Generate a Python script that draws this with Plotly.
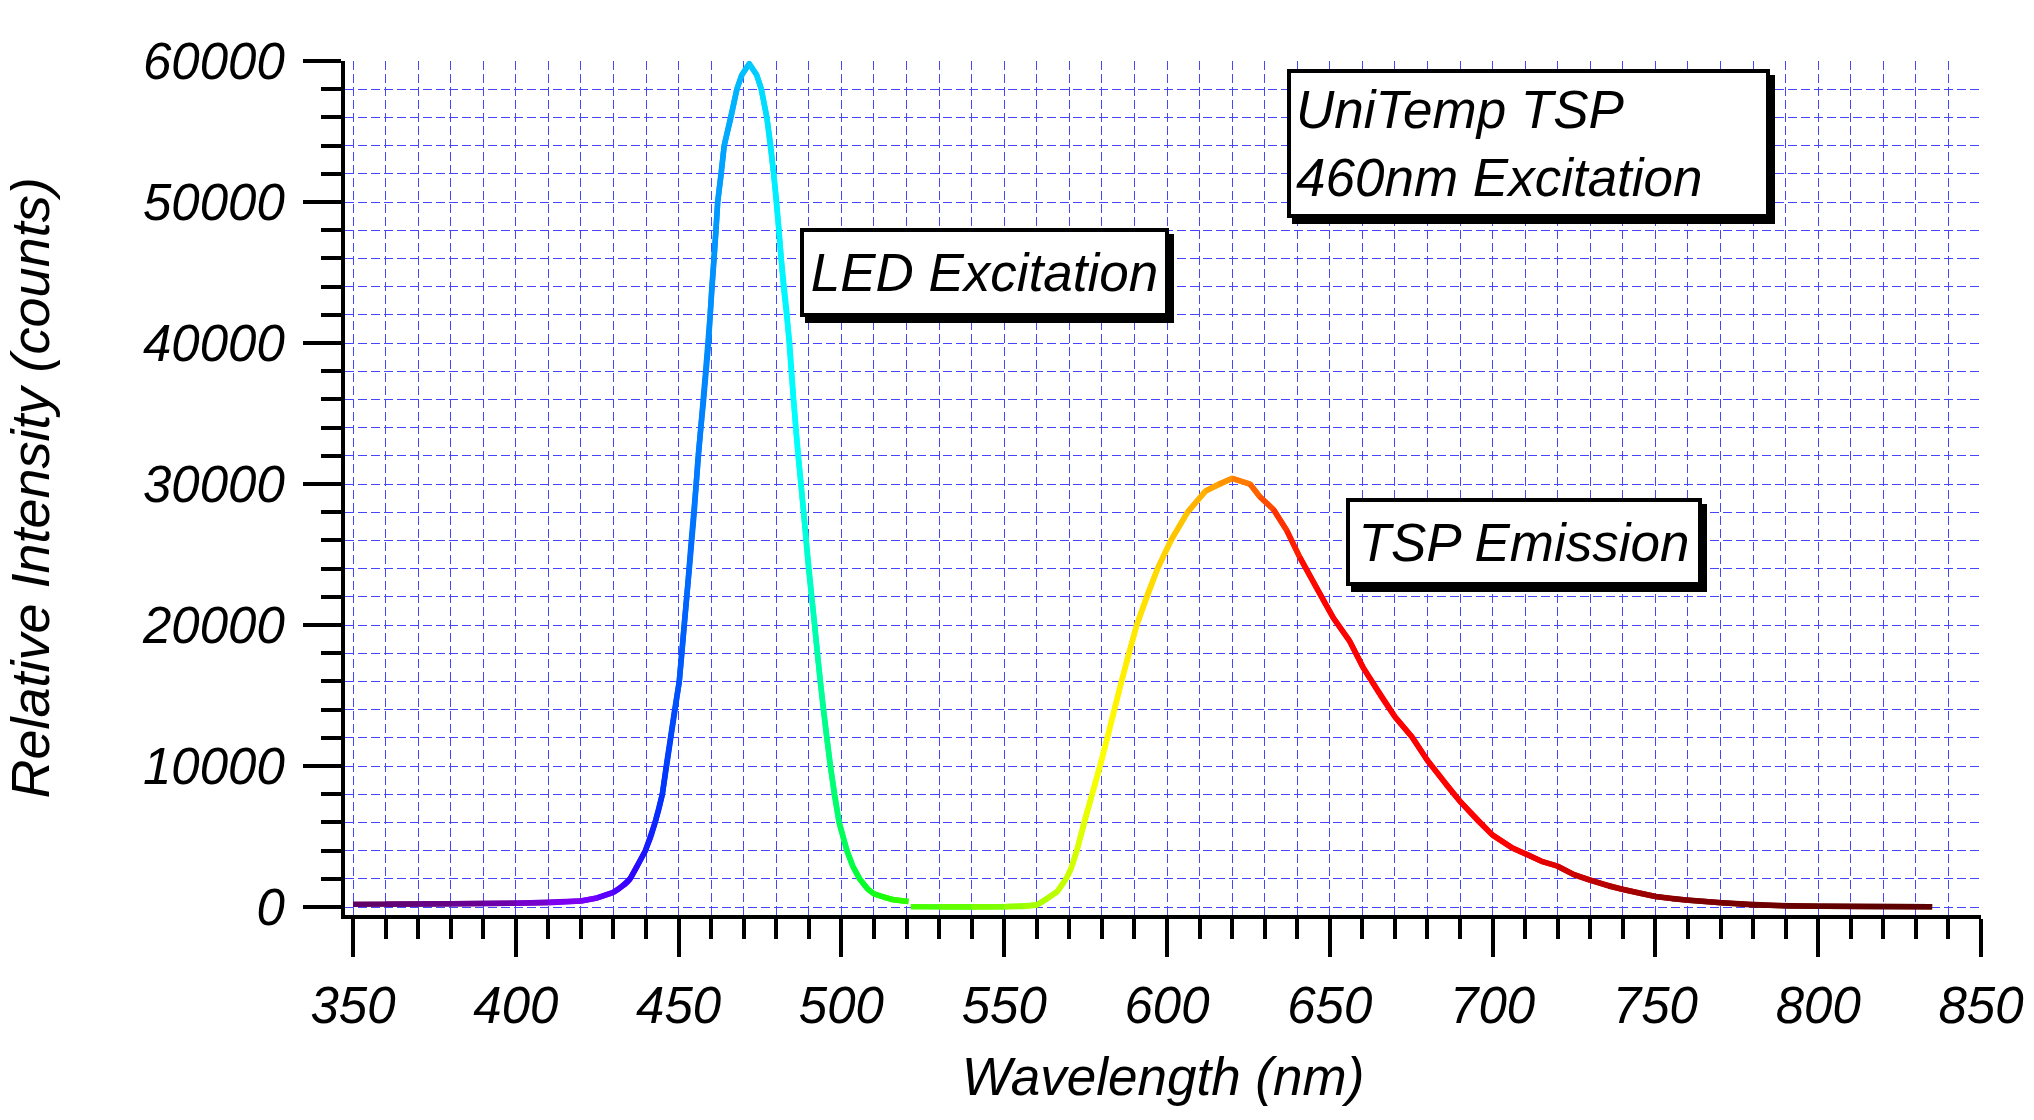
import plotly.graph_objects as go
from plotly.colors import sample_colorscale

# ---------------- data ----------------
led_wavelength = [350, 360, 370, 380, 390, 400, 410, 420, 425, 430, 432, 434, 435.1, 437.5,
                  439.8, 441.5, 442.8, 444.0, 445.0, 446.2, 447.6, 448.8, 450.2, 451.0, 451.7,
                  452.5, 453.3, 453.9, 454.8, 455.4, 456.0, 456.8, 457.7, 458.3, 459.2, 459.7,
                  460.2, 460.9, 461.5, 462.0, 463.1, 464.0, 466.1, 467.9, 469.4, 471.7, 474.0,
                  475.4, 477.1, 478.3, 479.2, 480.1, 480.8, 481.5, 482.2, 483.3, 484.1, 484.6,
                  485.3, 486.0, 486.7, 487.6, 488.4, 489.2, 489.9, 490.9, 491.8, 492.6, 493.5,
                  494.5, 495.5, 496.6, 497.8, 499.3, 501.7, 503.5, 505.6, 508.0, 510.0, 513.0,
                  516.0, 520.6]
led_counts = [200, 210, 220, 240, 260, 280, 310, 430, 650, 1050, 1350, 1700, 2000, 3000,
              4000, 5000, 6000, 7000, 8000, 10000, 12000, 14000, 16000, 18000, 20000,
              22000, 24000, 26000, 28000, 30000, 32000, 34000, 36000, 38000, 40000, 42000,
              44000, 46000, 48000, 50000, 52000, 54000, 56000, 58000, 59000, 59800, 59000,
              58000, 56000, 54000, 52000, 50000, 48000, 46000, 44000, 42000, 40000, 38000,
              36000, 34000, 32000, 30000, 28000, 26000, 24000, 22000, 20000, 18000, 16000,
              14000, 12000, 10000, 8000, 6000, 4000, 2900, 2000, 1300, 940, 700,
              520, 400]

tsp_wavelength = [521.3, 530, 540, 550, 556, 560, 563.3, 566.3, 569.0, 570.5, 572.3, 574.5,
                  577.0, 579.5, 581.7, 583.8, 586.0, 588.3, 590.7, 593.7, 597.1, 601.2, 606.3,
                  611.8, 615.9, 620.0, 625.5, 628.5, 632.7, 636.8, 640.8, 646.0, 651.1, 656.0,
                  660.2, 665.3, 670.0, 675.3, 680.0, 685.7, 690.0, 695.8, 700.0, 706.0, 710.0,
                  715.0, 720.0, 725.0, 730.0, 735.5, 740.0, 745.0, 750.0, 755.0, 760.0, 770.0,
                  780.0, 790.0, 800.0, 815.0, 835.0]
tsp_counts = [30, 20, 15, 20, 50, 150, 600, 1100, 2000, 2700, 4000, 6000,
              8000, 10000, 12000, 14000, 16000, 18000, 20000, 22000, 24000, 26000, 28000,
              29500, 30000, 30400, 30000, 29100, 28200, 26700, 24800, 22600, 20500, 18900,
              17000, 15100, 13500, 12050, 10400, 8700, 7500, 6050, 5100, 4200, 3800,
              3250, 2900, 2300, 1900, 1500, 1250, 1000, 750, 600, 480, 310,
              150, 80, 60, 40, 20]

x_tick_values = [350, 400, 450, 500, 550, 600, 650, 700, 750, 800, 850]
y_tick_values = [0, 10000, 20000, 30000, 40000, 50000, 60000]

# spectral colour scale (wavelength -> colour), style only
spectrum_wavelengths = [350, 390, 410, 420, 435, 445, 455, 465, 472, 480, 486, 495, 505, 515,
                        530, 555, 570, 580, 600, 615, 625, 635, 645, 705, 730, 760, 800, 835]
spectrum_colors = ['#600060', '#6a0099', '#7a00e0', '#8000ff', '#3300ff', '#0033ff', '#0077ff',
                   '#00aaff', '#00c8ff', '#00f0ff', '#00ffff', '#00ff88', '#00ff33', '#22ff00',
                   '#55ff00', '#99ff00', '#ccff00', '#ffff00', '#ffd000', '#ffa000', '#ff7000',
                   '#ff3000', '#ff0000', '#ff0000', '#c00000', '#800000', '#640000', '#5a0000']

wl_lo, wl_hi = spectrum_wavelengths[0], spectrum_wavelengths[-1]
colorscale = [[(w - wl_lo) / (wl_hi - wl_lo), c] for w, c in zip(spectrum_wavelengths, spectrum_colors)]

FONT = "Liberation Sans, Arial, sans-serif"
fig = go.Figure()


def add_spectrum(wl, counts):
    n = len(wl)
    for j in range(n - 1):
        seg_x = wl[j:min(j + 3, n)]
        seg_y = counts[j:min(j + 3, n)]
        mid = 0.5 * (wl[j] + wl[j + 1])
        t = min(max((mid - wl_lo) / (wl_hi - wl_lo), 0), 1)
        col = sample_colorscale(colorscale, [t])[0]
        fig.add_trace(go.Scatter(x=seg_x, y=seg_y, mode="lines",
                                 line=dict(color=col, width=5.5),
                                 hoverinfo="skip", showlegend=False))


add_spectrum(led_wavelength, led_counts)
add_spectrum(tsp_wavelength, tsp_counts)

grid_col = "#4646ff"
dash = "9px,4px"
tick_font = dict(family=FONT, size=51, color="black", style="italic")

fig.update_xaxes(
    range=[347.54, 850], tickvals=x_tick_values, ticktext=[str(v) for v in x_tick_values],
    showline=True, linewidth=4, linecolor="black",
    ticks="outside", ticklen=38, tickwidth=4, tickcolor="black", ticklabelstandoff=5,
    tickfont=tick_font,
    showgrid=True, gridcolor=grid_col, gridwidth=1, griddash=dash, zeroline=False,
    minor=dict(dtick=10, ticks="outside", ticklen=20, tickwidth=4, tickcolor="black",
               showgrid=True, gridcolor=grid_col, gridwidth=1, griddash=dash),
    title=dict(text="Wavelength (nm)", font=dict(family=FONT, size=53, color="black", style="italic"),
               standoff=26),
)
fig.update_yaxes(
    range=[-560, 60000], tickvals=y_tick_values, tickformat="d",
    showline=True, linewidth=4, linecolor="black",
    ticks="outside", ticklen=38, tickwidth=4, tickcolor="black", ticklabelstandoff=8,
    tickfont=tick_font,
    showgrid=True, gridcolor=grid_col, gridwidth=1, griddash=dash, zeroline=False,
    minor=dict(dtick=2000, ticks="outside", ticklen=20, tickwidth=4, tickcolor="black",
               showgrid=True, gridcolor=grid_col, gridwidth=1, griddash=dash),
    title=dict(text="Relative Intensity (counts)",
               font=dict(family=FONT, size=54, color="black", style="italic"), standoff=78),
)

ann_font = dict(family=FONT, size=53, color="black", style="italic")
boxes = [
    dict(text="LED Excitation", x=543.9, y=45000, width=351, height=71, align="center"),
    dict(text="TSP Emission", x=709.6, y=25920, width=338, height=70, align="center"),
    dict(text="UniTemp TSP<br>460nm Excitation", x=711.0, y=54140, width=465, height=131, align="left"),
]
for b in boxes:
    common = dict(x=b["x"], y=b["y"], xref="x", yref="y", xanchor="center", yanchor="middle",
                  showarrow=False, borderwidth=4, borderpad=5, align=b["align"],
                  width=b["width"], height=b["height"], font=ann_font, bordercolor="black")
    # drop shadow box (no text)
    fig.add_annotation(**common, text=" ", bgcolor="black", xshift=5, yshift=-6)
    fig.add_annotation(**common, text=b["text"], bgcolor="white")

fig.update_layout(
    width=2034, height=1120,
    margin=dict(l=345, r=53, t=61, b=205, autoexpand=False),
    paper_bgcolor="white", plot_bgcolor="white",
    showlegend=False,
)

fig.write_html("out.html", config={"displayModeBar": False},
               post_script="document.body.style.margin='0';document.body.style.overflow='hidden';")
